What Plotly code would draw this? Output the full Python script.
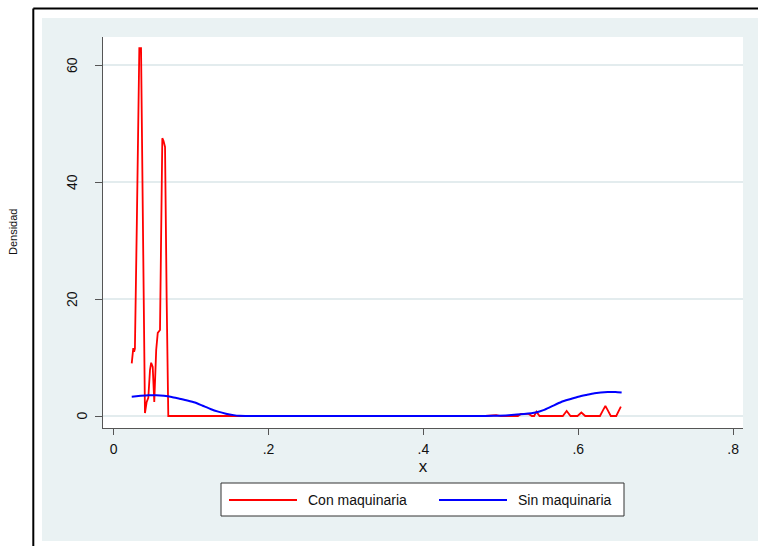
import plotly.graph_objects as go

# ---- data ----
con_x = [0.0234, 0.0254, 0.0265, 0.0275, 0.0300, 0.0320, 0.0332, 0.0354, 0.0370, 0.0390,
         0.0405, 0.0427, 0.0448, 0.0470, 0.0485, 0.0505, 0.0525, 0.0550, 0.0570, 0.0599,
         0.0615, 0.0629, 0.0645, 0.0664, 0.0685, 0.0706, 0.10, 0.20, 0.30, 0.40,
         0.480, 0.494, 0.500, 0.522, 0.526, 0.536, 0.540, 0.543, 0.546, 0.550,
         0.580, 0.585, 0.590, 0.599, 0.604, 0.609, 0.628, 0.632, 0.635, 0.638,
         0.642, 0.649, 0.652, 0.655]
con_y = [9.0, 11.6, 11.0, 11.5, 33.0, 55.0, 62.9, 62.9, 45.0, 18.0,
         0.5, 2.4, 3.1, 7.9, 9.1, 8.4, 2.4, 11.3, 14.2, 14.7,
         32.0, 47.5, 47.0, 46.0, 20.0, 0.0, 0.0, 0.0, 0.0, 0.0,
         0.0, 0.15, 0.0, 0.0, 0.35, 0.35, 0.0, 0.0, 0.75, 0.0,
         0.0, 0.85, 0.0, 0.0, 0.6, 0.0, 0.0, 1.0, 1.7, 1.0,
         0.0, 0.0, 0.9, 1.6]

sin_x = [0.0234, 0.035, 0.045, 0.055, 0.065, 0.075, 0.085, 0.095, 0.105, 0.115,
         0.125, 0.135, 0.145, 0.155, 0.162, 0.170, 0.20, 0.30, 0.40, 0.47,
         0.49, 0.51, 0.53, 0.545, 0.555, 0.565, 0.578, 0.59, 0.60, 0.61,
         0.621, 0.638, 0.648, 0.656]
sin_y = [3.3, 3.45, 3.55, 3.55, 3.45, 3.25, 2.95, 2.65, 2.3, 1.75,
         1.2, 0.75, 0.4, 0.15, 0.03, 0.0, 0.0, 0.0, 0.0, 0.0,
         0.05, 0.15, 0.35, 0.6, 1.0, 1.6, 2.4, 2.9, 3.3, 3.6,
         3.9, 4.1, 4.1, 4.0]

x_ticks = [0, 0.2, 0.4, 0.6, 0.8]
x_tick_text = ["0", ".2", ".4", ".6", ".8"]
y_ticks = [0, 20, 40, 60]
y_tick_text = ["0", "20", "40", "60"]

series_names = ["Con maquinaria", "Sin maquinaria"]
series_colors = ["#ff0000", "#0000ff"]

# ---- layout geometry (pixels) ----
W, H = 758, 546
L, R, T, B = 103, 743, 37, 428  # plot area in pixels


def px(xp):
    return (xp - L) / (R - L)


def py(yp):
    return (B - yp) / (B - T)


FONT = "Liberation Sans, Arial, sans-serif"
BG = "#eaf2f3"

fig = go.Figure()
fig.add_trace(go.Scatter(x=con_x, y=con_y, mode="lines", name=series_names[0],
                         line=dict(color=series_colors[0], width=1.8)))
fig.add_trace(go.Scatter(x=sin_x, y=sin_y, mode="lines", name=series_names[1],
                         line=dict(color=series_colors[1], width=2, shape="spline", smoothing=0.6)))

shapes = [
    # outer light region
    dict(type="rect", xref="paper", yref="paper", x0=px(42), x1=px(770), y0=py(541), y1=py(18),
         fillcolor=BG, line=dict(width=0), layer="below"),
    # white plot region
    dict(type="rect", xref="paper", yref="paper", x0=0, x1=1, y0=0, y1=1,
         fillcolor="white", line=dict(width=0), layer="below"),
    # black frame lines
    dict(type="line", xref="paper", yref="paper", x0=px(33.3), x1=px(770), y0=py(8.5), y1=py(8.5),
         line=dict(color="black", width=2)),
    dict(type="line", xref="paper", yref="paper", x0=px(33.3), x1=px(33.3), y0=py(8.5), y1=py(560),
         line=dict(color="black", width=2)),
    # legend box
    dict(type="rect", xref="paper", yref="paper", x0=px(221), x1=px(624), y0=py(516), y1=py(483),
         fillcolor="white", line=dict(color="#333333", width=1)),
    dict(type="line", xref="paper", yref="paper", x0=px(229), x1=px(297), y0=py(500), y1=py(500),
         line=dict(color=series_colors[0], width=1.8)),
    dict(type="line", xref="paper", yref="paper", x0=px(439), x1=px(507), y0=py(500), y1=py(500),
         line=dict(color=series_colors[1], width=2)),
]

annotations = [
    dict(text=series_names[0], xref="paper", yref="paper", x=px(306), y=py(500),
         xanchor="left", yanchor="middle", showarrow=False, font=dict(size=14, color="#111")),
    dict(text=series_names[1], xref="paper", yref="paper", x=px(516), y=py(500),
         xanchor="left", yanchor="middle", showarrow=False, font=dict(size=14, color="#111")),
    dict(text="Densidad", xref="paper", yref="paper", x=px(13), y=py(232), textangle=-90,
         xanchor="center", yanchor="middle", showarrow=False, font=dict(size=11, color="#111")),
]
for v, t in zip(y_ticks, y_tick_text):
    cx = 93 - 10.5 * len(t)
    annotations.append(dict(text=t, xref="paper", yref="y", x=px(cx), y=v, textangle=-90,
                            xanchor="center", yanchor="middle", showarrow=False,
                            font=dict(size=14, color="#111")))

fig.update_layout(
    width=W, height=H,
    margin=dict(l=L, r=W - R, t=T, b=H - B, pad=0),
    paper_bgcolor="white", plot_bgcolor="white",
    font=dict(family=FONT, color="#111"),
    showlegend=False,
    shapes=shapes,
    annotations=annotations,
    xaxis=dict(range=[-0.0137, 0.8127], tickvals=x_ticks, ticktext=x_tick_text,
               ticks="outside", ticklen=6, tickwidth=1.3, tickcolor="#555",
               showline=True, linecolor="#555", linewidth=1.3, showgrid=False, zeroline=False,
               tickfont=dict(size=14, color="#111"), ticklabelstandoff=2,
               title=dict(text="x", font=dict(size=17, color="#111"), standoff=2)),
    yaxis=dict(range=[-2.05, 64.79], tickvals=y_ticks, showticklabels=False,
               ticks="outside", ticklen=7, tickwidth=1.3, tickcolor="#555",
               showline=True, linecolor="#555", linewidth=1.3,
               showgrid=True, gridcolor="#e3ecee", gridwidth=1.5, zeroline=False),
)

fig.write_html("out.html")
